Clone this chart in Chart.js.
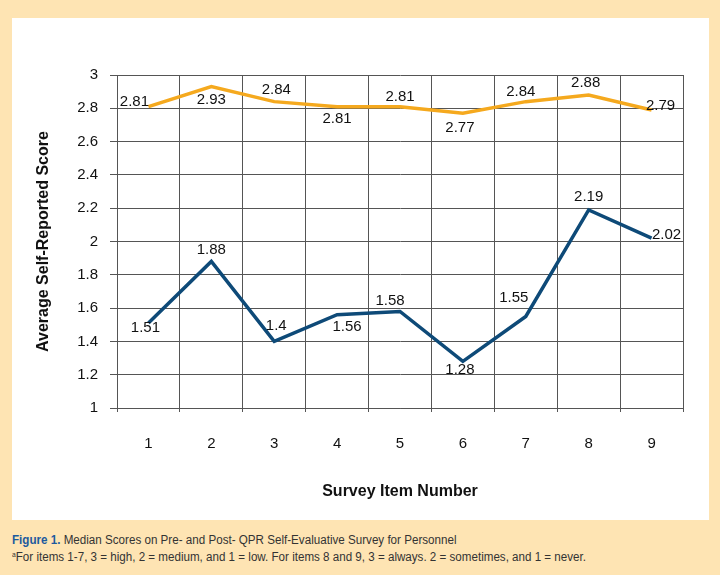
<!DOCTYPE html>
<html>
<head>
<meta charset="utf-8">
<script src="https://cdn.jsdelivr.net/npm/chart.js@4"></script>
<style>
  body { margin: 0; background: #fee4b3; width: 720px; height: 575px; position: relative; overflow: hidden; }
  #box { position: absolute; left: 12px; top: 18px; width: 697px; height: 502px; background: #fff; }
  #caption { position: absolute; left: 12px; top: 533px; font-family: "Liberation Sans Narrow", "Arial Narrow", "Liberation Sans", sans-serif; color: #333; }
  #caption div { transform-origin: 0 0; white-space: nowrap; }
  #caption .l1 { font-size: 12.5px; line-height: 15px; transform: scaleX(0.93); }
  #caption .l2 { font-size: 12px; line-height: 14px; transform: scaleX(0.967); }
  #caption b { color: #1d5a9e; }
  #caption sup { font-size: 7px; vertical-align: 4px; }
</style>
</head>
<body>
<div id="box"><canvas id="chart" width="697" height="502"></canvas></div>
<div id="caption">
  <div class="l1"><b>Figure 1.</b> Median Scores on Pre- and Post- QPR Self-Evaluative Survey for Personnel</div>
  <div class="l2"><sup>a</sup>For items 1-7, 3 = high, 2 = medium, and 1 = low. For items 8 and 9, 3 = always. 2 = sometimes, and 1 = never.</div>
</div>
<script>
const items = ["1", "2", "3", "4", "5", "6", "7", "8", "9"];
const postScores = [2.81, 2.93, 2.84, 2.81, 2.81, 2.77, 2.84, 2.88, 2.79];
const preScores = [1.51, 1.88, 1.4, 1.56, 1.58, 1.28, 1.55, 2.19, 2.02];

const FONT = "'Liberation Sans', Arial, sans-serif";

// draws each value next to its point, nudged by the dataset's labelShift
const valueLabels = {
    id: "valueLabels",
    afterDatasetsDraw(chart) {
        const ctx = chart.ctx;
        ctx.save();
        ctx.font = "15px " + FONT;
        ctx.fillStyle = "#111";
        ctx.textAlign = "center";
        ctx.textBaseline = "middle";
        chart.data.datasets.forEach((ds, i) => {
            chart.getDatasetMeta(i).data.forEach((pt, j) => {
                const s = ds.labelShift[j];
                ctx.fillText(String(ds.data[j]), pt.x + s[0], pt.y + s[1]);
            });
        });
        ctx.restore();
    }
};

new Chart("chart", {
    type: "line",
    data: {
        labels: items,
        datasets: [{
            label: "Post",
            data: postScores,
            borderColor: "#f5a91e",
            borderWidth: 3.5,
            pointRadius: 0,
            tension: 0,
            labelShift: [[-14, -5], [0, 13], [2, -12], [0, 12], [0, -10], [-3, 15], [-5, -10], [-3, -12], [9, -4]]
        }, {
            label: "Pre",
            data: preScores,
            borderColor: "#0e4a78",
            borderWidth: 3.5,
            pointRadius: 0,
            tension: 0,
            labelShift: [[-3, 5], [0, -12], [2, -16], [10, 12], [-10, -11], [-3, 8], [-12, -19], [0, -13], [15, -3]]
        }]
    },
    options: {
        responsive: false,
        animation: false,
        layout: { padding: { left: 0, top: 57, right: 26, bottom: 0 } },
        plugins: { legend: { display: false }, tooltip: { enabled: false } },
        scales: {
            x: {
                offset: true,
                grid: { offset: true, color: "#555", lineWidth: 1, tickLength: 4 },
                border: { color: "#555" },
                ticks: { color: "#111", font: { family: FONT, size: 15 }, padding: 23, maxRotation: 0 },
                title: { display: true, text: "Survey Item Number", color: "#111", font: { family: FONT, size: 16, weight: "bold" }, padding: { top: 0, bottom: 19 } },
                afterFit(scale) { scale.height = 112; }
            },
            y: {
                min: 1,
                max: 3,
                ticks: {
                    stepSize: 0.2, color: "#111", font: { family: FONT, size: 15 }, padding: 12,
                    callback: v => String(Number(v.toFixed(1)))
                },
                grid: { color: "#555", lineWidth: 1, tickLength: 7 },
                border: { color: "#555" },
                title: { display: true, text: "Average Self-Reported Score", color: "#111", font: { family: FONT, size: 16, weight: "bold" }, padding: { top: 22, bottom: 0 } },
                afterFit(scale) { scale.width = 105; }
            }
        }
    },
    plugins: [valueLabels]
});
</script>
</body>
</html>
